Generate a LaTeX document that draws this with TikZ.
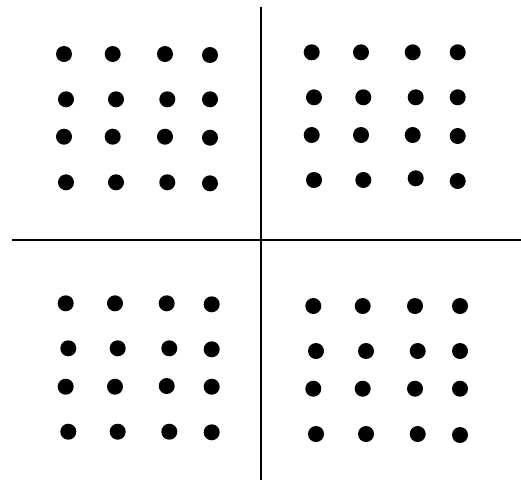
\documentclass[tikz,border=0pt]{standalone}
\begin{document}
\begin{tikzpicture}[x=1pt,y=-1pt,
  dot/.style={circle,fill=black,inner sep=0pt,minimum size=16pt},
  axis/.style={line width=1.6pt,black}]
\useasboundingbox (0,0) rectangle (521,480);
% axes
\coordinate (vt) at (261,7);
\coordinate (vb) at (261,480);
\coordinate (hl) at (12,240);
\coordinate (hr) at (521,240);
\draw[axis] (vt) -- (vb);
\draw[axis] (hl) -- (hr);
% top-left
\foreach \x/\y [count=\i] in {64/54,112.7/54,165/54,210/55,
  66/99.3,116/99.3,167.3/99.3,210/99.3,
  64/136.7,112.7/136.7,165/136.7,210/137.7,
  66/182.3,116/182.3,167.3/182.3,210/183.3}
  \node[dot] (a\i) at (\x,\y) {};
% top-right
\foreach \x/\y [count=\i] in {311.7/52.3,361/52.3,412.7/52.3,457.7/52.3,
  314/97.3,363.3/97.3,415.7/97.3,457.7/97.3,
  311.7/135,361/135,412.7/135,457.7/136,
  314/180,363.3/180,415.7/178.3,457.7/181}
  \node[dot] (b\i) at (\x,\y) {};
% bottom-left
\foreach \x/\y [count=\i] in {65.7/303.3,115/303.3,166.7/303.3,211.7/304.3,
  68.3/348.3,117.7/348.3,169.3/348.3,211.7/349.3,
  65.7/386.7,115/386.7,166.7/386,211.7/386.7,
  68.3/431.7,117.7/431.7,169.3/431.7,211.7/432.3}
  \node[dot] (c\i) at (\x,\y) {};
% bottom-right
\foreach \x/\y [count=\i] in {313.3/306,362.7/306,415/306,460/306,
  316/351,366/351,417.7/351,460/351,
  313.3/388.7,362.7/388.7,415/388.7,460/388.7,
  316/434,366/434,417.7/434,460/435}
  \node[dot] (d\i) at (\x,\y) {};
\end{tikzpicture}
\end{document}
